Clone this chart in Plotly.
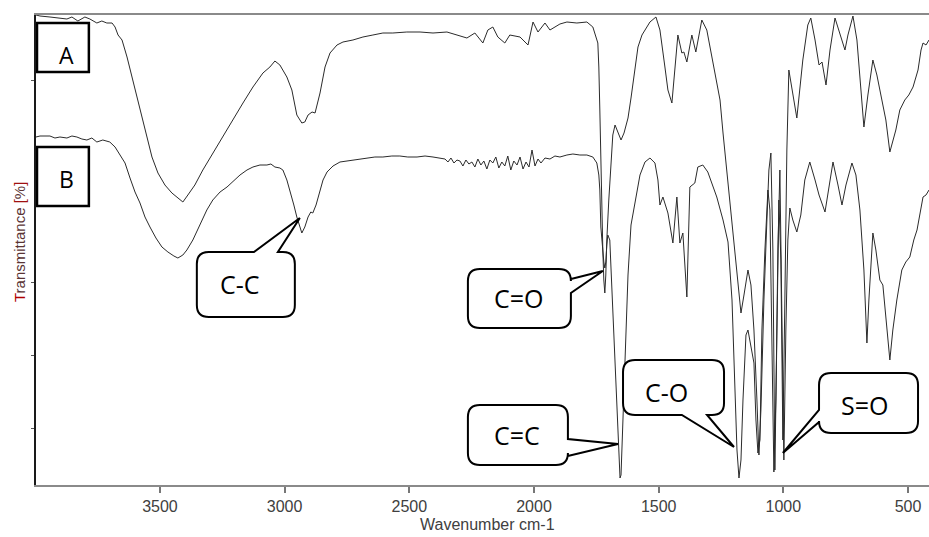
import plotly.graph_objects as go

# ---------------- data (wavenumber cm-1, transmittance) -------------
wn_A = [3997,3981,3941,3909,3873,3853,3829,3801,3781,3753,
        3733,3713,3692,3680,3668,3652,3632,3612,3592,3572,
        3552,3532,3508,3480,3452,3428,3408,3388,3360,3328,
        3288,3247,3207,3167,3127,3087,3059,3039,3019,2991,
        2971,2951,2931,2919,2906,2890,2878,2858,2838,2818,
        2790,2766,2726,2686,2646,2606,2566,2510,2457,2405,
        2349,2309,2269,2237,2205,2185,2165,2145,2117,2097,
        2056,2024,2004,1984,1956,1936,1896,1868,1828,1788,
        1764,1744,1740,1736,1732,1728,1724,1720,1716,1712,
        1708,1700,1692,1684,1675,1663,1651,1639,1623,1611,
        1599,1583,1567,1555,1535,1511,1495,1475,1463,1447,
        1435,1423,1407,1399,1387,1367,1351,1327,1307,1287,
        1267,1254,1242,1222,1202,1190,1178,1170,1158,1142,
        1130,1118,1106,1098,1090,1078,1066,1058,1050,1042,
        1034,1026,1018,1010,1002,994,986,978,962,946,
        922,902,890,873,857,845,829,813,793,773,
        753,741,721,705,693,677,661,641,625,605,
        589,573,561,549,533,513,497,480,460,448,
        440,428,416]
T_A = [94.0,93.8,93.6,93.4,93.2,93.6,92.8,93.6,93.2,92.4,
       92.8,92.4,92.4,91.6,90.0,89.0,85.6,81.6,77.6,73.6,
       69.6,65.6,62.4,60.0,58.4,57.4,56.6,58.0,60.0,63.0,
       66.4,69.6,73.0,76.4,79.6,82.4,83.6,84.8,84.0,81.6,
       79.0,74.0,72.4,72.6,74.0,74.6,74.4,78.4,83.6,86.4,
       88.0,88.6,89.0,89.6,90.0,90.4,90.4,90.6,90.6,90.4,
       90.6,90.0,89.4,90.4,88.4,91.0,91.6,89.6,88.4,90.0,
       89.6,88.0,92.6,90.6,92.4,91.0,92.2,92.6,92.4,92.6,
       91.6,88.4,83.6,75.0,63.6,55.0,47.0,41.0,38.4,42.0,
       49.0,57.0,64.0,70.0,72.0,70.6,69.0,70.4,73.4,77.4,
       82.0,87.6,90.0,91.0,92.6,93.6,91.0,83.6,79.0,76.4,
       83.6,90.0,86.4,86.6,84.6,90.0,86.6,93.0,91.0,85.6,
       80.4,77.0,70.4,60.4,50.4,45.0,38.0,34.4,38.0,43.0,
       40.0,31.0,17.0,6.0,15.0,37.0,53.0,63.0,66.4,47.0,
       3.0,31.0,57.0,45.0,9.0,37.0,67.0,83.0,78.0,73.4,
       85.0,92.0,93.4,89.0,84.0,84.6,80.0,87.0,93.4,90.0,
       87.0,90.0,93.8,89.0,81.0,71.6,78.0,85.0,82.0,77.0,
       73.0,66.6,69.0,71.0,75.0,77.0,78.0,79.6,83.0,87.0,
       88.4,88.0,89.0]

wn_B = [3997,3981,3941,3921,3901,3873,3853,3833,3813,3793,
        3773,3753,3729,3701,3680,3660,3640,3620,3600,3580,
        3560,3540,3516,3492,3468,3444,3428,3408,3392,3368,
        3340,3312,3288,3259,3231,3207,3179,3151,3127,3099,
        3071,3055,3039,3019,3007,2991,2979,2963,2951,2939,
        2931,2919,2906,2895,2887,2874,2858,2846,2830,2806,
        2778,2750,2726,2698,2670,2638,2606,2570,2538,2506,
        2469,2437,2405,2377,2357,2345,2333,2321,2309,2297,
        2285,2273,2261,2249,2237,2225,2213,2201,2189,2177,
        2165,2153,2141,2129,2117,2105,2093,2081,2068,2056,
        2044,2032,2020,2008,1996,1984,1972,1956,1936,1916,
        1896,1868,1844,1816,1788,1764,1748,1740,1736,1732,
        1724,1720,1716,1712,1708,1704,1696,1688,1675,1663,
        1655,1651,1643,1635,1623,1611,1603,1591,1575,1555,
        1535,1515,1503,1495,1483,1463,1443,1427,1415,1403,
        1387,1375,1355,1343,1323,1303,1287,1267,1242,1222,
        1206,1194,1186,1178,1170,1162,1150,1142,1130,1118,
        1110,1102,1094,1086,1074,1062,1054,1046,1038,1030,
        1022,1014,1006,998,990,982,974,962,946,930,
        914,894,873,857,833,817,801,781,765,749,
        725,709,693,677,665,657,641,629,613,601,
        589,573,561,545,525,509,493,477,464,452,
        440,428,416]
T_B = [69.6,69.8,69.8,69.4,69.6,69.4,69.8,69.6,69.2,69.0,
       69.4,68.6,69.0,68.6,67.6,66.0,64.4,61.4,58.6,56.4,
       53.6,51.6,49.4,47.6,46.6,45.8,45.4,46.0,47.0,49.0,
       52.0,55.0,57.0,58.6,59.6,60.8,62.0,63.0,63.6,64.0,
       64.0,64.2,63.6,63.4,63.0,61.0,59.0,56.0,53.6,51.4,
       50.4,51.6,53.6,54.6,54.4,56.0,59.0,61.0,62.6,63.8,
       64.6,64.8,65.0,65.2,65.4,65.6,65.6,65.8,65.8,65.6,
       65.6,65.8,65.6,65.4,65.2,64.6,65.4,64.4,65.0,64.8,
       63.8,65.0,64.2,64.6,63.6,65.2,64.0,64.8,63.2,65.0,
       64.4,65.6,63.4,64.6,63.8,65.8,63.0,64.8,64.0,65.6,
       63.2,64.6,63.6,67.0,63.8,65.2,64.4,65.4,65.2,65.8,
       65.6,66.0,66.2,66.0,66.0,65.6,64.4,62.0,59.0,51.6,
       46.4,44.6,43.4,44.6,48.0,50.0,49.0,39.0,23.0,8.0,
       1.4,2.0,13.0,23.0,42.0,52.0,54.4,57.4,62.0,64.6,
       65.4,64.4,61.0,56.0,57.6,54.4,48.4,57.6,48.4,50.4,
       37.6,59.6,60.4,63.6,64.0,62.6,60.4,57.6,53.0,48.6,
       37.0,17.0,7.0,1.4,5.0,17.0,30.0,31.0,28.0,24.4,
       13.0,6.4,9.0,31.0,47.0,59.0,55.0,31.0,2.6,17.0,
       47.0,63.0,37.0,5.0,31.0,49.0,55.4,53.0,50.6,54.0,
       61.0,64.6,61.0,58.0,54.6,60.0,64.6,60.0,56.0,60.0,
       64.4,62.0,55.0,43.0,28.4,37.0,50.4,47.0,41.0,40.0,
       33.0,25.0,31.0,37.0,43.0,44.6,45.6,49.0,51.0,54.0,
       57.6,58.0,59.0]

x_ticks = [3500, 3000, 2500, 2000, 1500, 1000, 500]
y_ticks = [11.4, 26.0, 40.6, 81.0]
x_range = [3997, 416]
y_range = [0, 94]

# sample labels (boxes in data coordinates)
sample_boxes = [
    dict(label="A", x0=3993, x1=3785, y0=82.6, y1=92.4, tx=3874, ty=86.0),
    dict(label="B", x0=3993, x1=3785, y0=55.8, y1=67.6, tx=3874, ty=61.3),
]
# band callouts: box (left wn, right wn, top T, bottom T), tail edge, tail bases, tip, text pos
callouts = [
    dict(text="C-C", box=(3352, 2959, 46.6, 33.6), edge="top", base=(3123, 3027), tip=(2939, 53.4), pos=(3179, 40.2)),
    dict(text="C=O", box=(2265, 1852, 43.2, 31.4), edge="right", base=(41.2, 38.4), tip=(1724, 42.8), pos=(2060, 37.4)),
    dict(text="C=C", box=(2265, 1864, 16.0, 4.0), edge="right", base=(9.2, 5.8), tip=(1663, 8.2), pos=(2068, 10.0)),
    dict(text="C-O", box=(1643, 1238, 25.0, 14.0), edge="bottom", base=(1306, 1407), tip=(1198, 7.6), pos=(1467, 18.6)),
    dict(text="S=O", box=(857, 460, 22.4, 10.4), edge="left", base=(12.6, 15.0), tip=(1002, 6.4), pos=(673, 16.0)),
]

# ---------------- layout geometry ----------------
W, H = 929, 537
M = dict(l=36, r=0, t=15, b=52)
plot_w = W - M["l"] - M["r"]
plot_h = H - M["t"] - M["b"]
wn_per_px = (x_range[0] - x_range[1]) / plot_w
t_per_px = (y_range[1] - y_range[0]) / plot_h


def bubble(c, r=12):
    xl, xr, yt, yb = c["box"]
    rx, ry = r * wn_per_px, r * t_per_px
    b, tip, e = c["base"], c["tip"], c["edge"]
    tp = f"L{tip[0]},{tip[1]}"
    p = [f"M{xl - rx},{yt}"]
    if e == "top":
        p += [f"L{b[0]},{yt}", tp, f"L{b[1]},{yt}"]
    p += [f"L{xr + rx},{yt}", f"Q{xr},{yt} {xr},{yt - ry}"]
    if e == "right":
        p += [f"L{xr},{b[0]}", tp, f"L{xr},{b[1]}"]
    p += [f"L{xr},{yb + ry}", f"Q{xr},{yb} {xr + rx},{yb}"]
    if e == "bottom":
        p += [f"L{b[0]},{yb}", tp, f"L{b[1]},{yb}"]
    p += [f"L{xl - rx},{yb}", f"Q{xl},{yb} {xl},{yb + ry}"]
    if e == "left":
        p += [f"L{xl},{b[0]}", tp, f"L{xl},{b[1]}"]
    p += [f"L{xl},{yt - ry}", f"Q{xl},{yt} {xl - rx},{yt}", "Z"]
    return " ".join(p)


fig = go.Figure()
for wn, tr in ((wn_A, T_A), (wn_B, T_B)):
    fig.add_trace(go.Scatter(x=wn, y=tr, mode="lines",
                             line=dict(color="#2b2b2b", width=1.0),
                             hoverinfo="skip", showlegend=False))

shapes, annotations = [], []
for sb in sample_boxes:
    shapes.append(dict(type="rect", xref="x", yref="y", x0=sb["x0"], x1=sb["x1"],
                       y0=sb["y0"], y1=sb["y1"], line=dict(color="black", width=2.5),
                       fillcolor="white", layer="above"))
    annotations.append(dict(x=sb["tx"], y=sb["ty"], xref="x", yref="y", text=sb["label"],
                            showarrow=False, font=dict(family="Open Sans", size=23, color="black")))
for c in callouts:
    shapes.append(dict(type="path", xref="x", yref="y", path=bubble(c),
                       line=dict(color="black", width=2), fillcolor="white", layer="above"))
    annotations.append(dict(x=c["pos"][0], y=c["pos"][1], xref="x", yref="y", text=c["text"],
                            showarrow=False, font=dict(family="Open Sans", size=25, color="black")))

# axis titles
annotations.append(dict(x=(487 - M["l"]) / plot_w, y=-39 / plot_h, xref="paper", yref="paper",
                        text="Wavenumber cm-1", showarrow=False, xanchor="center", yanchor="middle",
                        font=dict(family="Liberation Sans, Arial", size=16, color="#404040")))
annotations.append(dict(x=-17 / plot_w, y=243 / plot_h, xref="paper", yref="paper",
                        text="<span style='color:#b00000'>T</span>ransmittance "
                             "<span style='color:#a01010'>[</span>%<span style='color:#a01010'>]</span>",
                        showarrow=False, textangle=-90, xanchor="center", yanchor="middle",
                        font=dict(family="Liberation Sans, Arial", size=15, color="#5a3434")))

fig.update_layout(
    width=W, height=H, margin=M,
    paper_bgcolor="white", plot_bgcolor="white",
    shapes=shapes, annotations=annotations,
    xaxis=dict(range=x_range, tickvals=x_ticks, ticktext=[str(v) for v in x_ticks],
               showgrid=False, zeroline=False, showline=True, linecolor="#8a8a8a", linewidth=2,
               mirror=True, ticks="outside", ticklen=6, tickwidth=1.5, tickcolor="#777",
               tickfont=dict(family="Liberation Sans, Arial", size=16, color="#404040")),
    yaxis=dict(range=y_range, tickvals=y_ticks, showticklabels=False,
               showgrid=False, zeroline=False, showline=True, linecolor="#1a1a1a", linewidth=1.5,
               ticks="outside", ticklen=3, tickwidth=1, tickcolor="#555"),
)

fig.write_html("out.html")
